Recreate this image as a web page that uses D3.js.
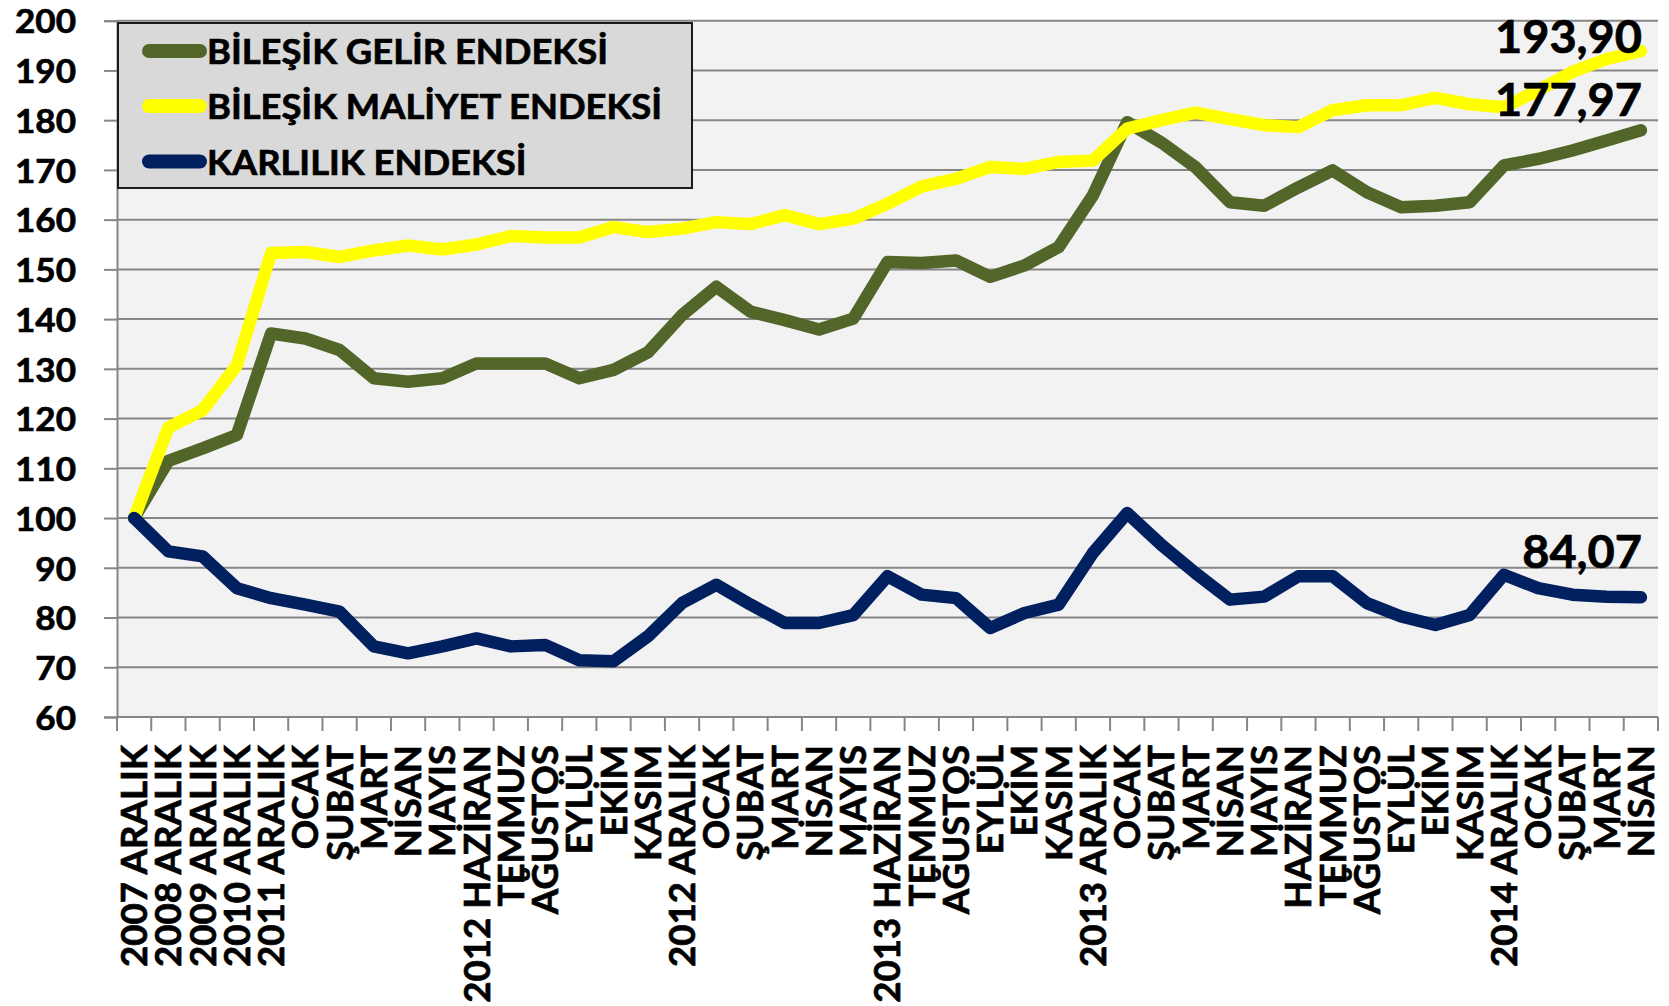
<!DOCTYPE html>
<html><head><meta charset="utf-8">
<script src="https://cdn.jsdelivr.net/npm/d3@7"></script>
<style>
body{margin:0;background:#fff}
svg text{font-family:Lato,'Open Sans',sans-serif;font-weight:bold;fill:#000;stroke:#000;stroke-width:0.7px;paint-order:stroke}
</style>
</head><body>
<svg id="c" width="1669" height="1006"></svg>
<script>
const categories = ["2007 ARALIK","2008 ARALIK","2009 ARALIK","2010 ARALIK","2011 ARALIK","OCAK","ŞUBAT","MART","NİSAN","MAYIS","2012 HAZİRAN","TEMMUZ","AĞUSTOS","EYLÜL","EKİM","KASIM","2012 ARALIK","OCAK","ŞUBAT","MART","NİSAN","MAYIS","2013 HAZİRAN","TEMMUZ","AĞUSTOS","EYLÜL","EKİM","KASIM","2013 ARALIK","OCAK","ŞUBAT","MART","NİSAN","MAYIS","HAZİRAN","TEMMUZ","AĞUSTOS","EYLÜL","EKİM","KASIM","2014 ARALIK","OCAK","ŞUBAT","MART","NİSAN"];
const yTicks = [60,70,80,90,100,110,120,130,140,150,160,170,180,190,200];
const gelir = [100,111.5,114,116.7,137.1,136.1,133.8,128.1,127.4,128.1,131.1,131.1,131.1,128.1,129.8,133.3,140.8,146.5,141.5,139.8,137.9,140.1,151.5,151.3,151.8,148.5,150.8,154.5,164.9,179.6,175.5,170.5,163.5,162.8,166.5,169.9,165.5,162.5,162.8,163.5,170.9,172.2,173.9,175.9,177.97];
const maliyet = [100,118.2,121.7,130.7,153.3,153.5,152.5,153.8,154.8,154,155,156.7,156.4,156.4,158.5,157.5,158.2,159.5,159.1,160.9,159.1,160.2,163.2,166.7,168.2,170.6,170.2,171.6,171.9,178.3,180.0,181.5,180.2,179.0,178.6,182.0,183.0,183.0,184.5,183.2,182.6,186.0,189.7,192.3,193.9];
const karlilik = [100,93.3,92.3,85.9,83.9,82.6,81.2,74.2,72.8,74.2,75.8,74.2,74.5,71.4,71.2,76.2,82.9,86.6,82.6,78.9,78.9,80.5,88.3,84.6,83.9,77.9,80.9,82.6,93.0,101.0,94.6,88.9,83.6,84.2,88.3,88.3,82.9,80.2,78.5,80.5,88.6,85.9,84.6,84.2,84.07];
const seriesNames = ["BİLEŞİK GELİR ENDEKSİ","BİLEŞİK MALİYET ENDEKSİ","KARLILIK ENDEKSİ"];
const seriesColors = ["#536629","#ffff00","#002060"];
const endLabels = ["177,97","193,90","84,07"];
const endLabelDy = [-14,2,-29];

const pL=117, pR=1658, pT=20.7, pB=717;
const svg=d3.select("#c");
const idx=d3.range(categories.length);
const x=d3.scaleBand().domain(idx).range([pL,pR]);
const y=d3.scaleLinear().domain([60,200]).range([pB,pT]);
const cx = i => x(i) + x.bandwidth()/2;

function fitWidth(sel, refIndex, target){
  const ref = sel.nodes()[refIndex].getComputedTextLength();
  const k = target/ref;
  sel.each(function(){ const w=this.getComputedTextLength(); d3.select(this).attr("textLength",w*k).attr("lengthAdjust","spacingAndGlyphs"); });
}

svg.append("rect").attr("x",pL).attr("y",pT).attr("width",pR-pL).attr("height",pB-pT).attr("fill","#f2f2f2");
svg.append("g").selectAll("line").data(yTicks).join("line")
  .attr("x1",pL).attr("x2",pR).attr("y1",d=>y(d)).attr("y2",d=>y(d))
  .attr("stroke","#868686").attr("stroke-width",2);

// Y axis
const gy = svg.append("g").attr("transform",`translate(${pL},0)`)
  .call(d3.axisLeft(y).tickValues(yTicks).tickSize(13).tickPadding(28).tickFormat(d3.format("d")));
gy.attr("font-family",null).attr("font-size",null);
gy.select(".domain").attr("stroke","#868686").attr("stroke-width",2);
gy.selectAll(".tick line").attr("stroke","#868686").attr("stroke-width",2);
const yt = gy.selectAll(".tick text").attr("dy","0.37em").style("font-size","33px");
fitWidth(yt, yTicks.length-1, 61);

// X axis
svg.append("line").attr("x1",pL).attr("x2",pR).attr("y1",pB).attr("y2",pB).attr("stroke","#868686").attr("stroke-width",2);
svg.append("g").selectAll("line").data(d3.range(categories.length+1)).join("line")
  .attr("x1",i=>pL+i*x.step()).attr("x2",i=>pL+i*x.step())
  .attr("y1",pB).attr("y2",pB+14).attr("stroke","#868686").attr("stroke-width",2);
const xl = svg.append("g").selectAll("text").data(categories).join("text")
  .attr("transform",(d,i)=>`translate(${cx(i)},745) rotate(-90)`)
  .attr("text-anchor","end").attr("dy","0.36em").style("font-size","36px")
  .text(d=>d);
fitWidth(xl, 0, 222);

// Lines
const data=[gelir,maliyet,karlilik];
const line=d3.line().x((d,i)=>cx(i)).y(d=>y(d));
svg.append("g").selectAll("path").data(data).join("path")
  .attr("d",line).attr("fill","none").attr("stroke",(d,i)=>seriesColors[i])
  .attr("stroke-width",12.5).attr("stroke-linejoin","round").attr("stroke-linecap","round");

// Legend
const lg=svg.append("g");
lg.append("rect").attr("x",118).attr("y",23).attr("width",574).attr("height",165).attr("fill","#d9d9d9").attr("stroke","#1a1a1a").attr("stroke-width",2);
const rows=[51,106,161.5];
lg.selectAll("line").data(seriesNames).join("line")
  .attr("x1",149).attr("x2",200).attr("y1",(d,i)=>rows[i]).attr("y2",(d,i)=>rows[i])
  .attr("stroke",(d,i)=>seriesColors[i]).attr("stroke-width",14).attr("stroke-linecap","round");
const lt=lg.selectAll("text").data(seriesNames).join("text")
  .attr("x",207).attr("y",(d,i)=>rows[i]+13).style("font-size","35px").text(d=>d);
fitWidth(lt, 1, 455);

// End labels
const last=categories.length-1;
const el=svg.append("g").selectAll("text").data(data).join("text")
  .attr("x",1642).attr("y",(d,i)=>y(d[last])+endLabelDy[i]).attr("text-anchor","end")
  .style("font-size","46px").text((d,i)=>endLabels[i]);
fitWidth(el, 1, 147);
</script>
</body></html>
